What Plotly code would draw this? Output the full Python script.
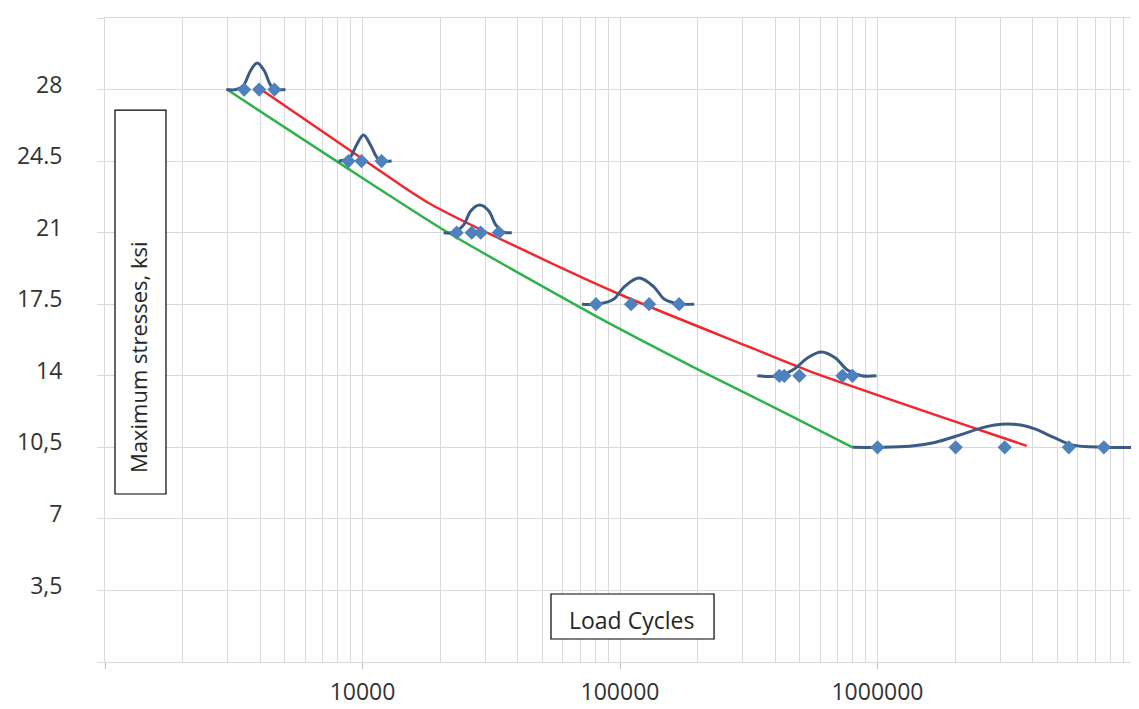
import plotly.graph_objects as go

# ---------------- data ----------------
# test points (blue diamonds)
pt_cycles = [3470, 3970, 4550,
             8820, 9910, 11860,
             23210, 26550, 28780, 33820,
             80650, 110400, 129700, 169600,
             415600, 434600, 497100, 730800, 799200,
             1000000, 2012000, 3120000, 5535000, 7570000]
pt_stress = [28, 28, 28,
             24.5, 24.5, 24.5,
             21, 21, 21, 21,
             17.5, 17.5, 17.5, 17.5,
             14, 14, 14, 14, 14,
             10.5, 10.5, 10.5, 10.5, 10.5]

# distribution curves at each stress level (dark blue)
bell28_cycles = [2960, 3230, 3440, 3670, 3900, 4160, 4420, 4710, 5020]
bell28_stress = [28, 28, 28.18, 28.91, 29.3, 28.91, 28.18, 28, 28]

bell245_cycles = [8070, 8900, 9480, 10090, 10740, 11440, 12180, 12970]
bell245_stress = [24.5, 24.65, 25.29, 25.78, 25.29, 24.65, 24.5, 24.5]

bell21_cycles = [20660, 22800, 24720, 26320, 28530, 30930, 32930, 35370, 37990]
bell21_stress = [21, 21.03, 21.38, 22.06, 22.35, 22.06, 21.38, 21.03, 21]

bell175_cycles = [71150, 82840, 94750, 103600, 118600, 135600, 148300, 169600, 194100]
bell175_stress = [17.5, 17.52, 17.76, 18.34, 18.78, 18.34, 17.76, 17.52, 17.5]

bell14_cycles = [341300, 415600, 475400, 534200, 605500, 686500, 764300, 866400, 991100]
bell14_stress = [14, 14, 14.33, 14.87, 15.16, 14.87, 14.28, 14, 14]

bell105_cycles = [800000, 1000000, 1332000, 1667000, 2084000, 2539000, 2852000, 3205000,
                  3601000, 4082000, 4884000, 5685000, 7573000, 11340000]
bell105_stress = [10.5, 10.5, 10.55, 10.74, 11.1, 11.45, 11.59, 11.64,
                  11.59, 11.4, 10.96, 10.62, 10.5, 10.5]

# mean S-N curve (red)
red_cycles = [4120, 10550, 18060, 46280, 99100, 317600, 543700, 2494000, 3799000]
red_stress = [27.93, 24.41, 22.45, 19.91, 18.0, 15.41, 14.23, 11.35, 10.57]

# design curve (green)
green_cycles = [2980, 7920, 20670, 80660, 203000, 454700, 800000]
green_stress = [28.0, 24.5, 21.13, 16.92, 14.28, 12.08, 10.5]

# axis ticks
y_tickvals = [0, 3.5, 7, 10.5, 14, 17.5, 21, 24.5, 28, 31.5]
y_ticktext = ["", "3,5", "7", "10,5", "14", "17.5", "21", "24.5", "28", ""]
x_tickvals = [1e3, 1e4, 1e5, 1e6, 1e7]
x_ticktext = ["", "10000", "100000", "1000000", ""]
x_minorvals = [m * d for d in (1e3, 1e4, 1e5, 1e6) for m in range(2, 10)]

# ---------------- figure ----------------
BLUE_LINE = "#3B5B87"
BLUE_PT = "#4F81BD"
GRID = "#D9D9D9"
FONT = "Open Sans"
TXT = "#333333"

fig = go.Figure()

fig.add_trace(go.Scatter(x=green_cycles, y=green_stress, mode="lines",
                         line=dict(color="#2DB34A", width=2.5, shape="spline", smoothing=0.6),
                         hoverinfo="skip"))
fig.add_trace(go.Scatter(x=red_cycles, y=red_stress, mode="lines",
                         line=dict(color="#F2262B", width=2.5, shape="spline", smoothing=0.8),
                         hoverinfo="skip"))

for xs, ys in [(bell28_cycles, bell28_stress), (bell245_cycles, bell245_stress),
               (bell21_cycles, bell21_stress), (bell175_cycles, bell175_stress),
               (bell14_cycles, bell14_stress), (bell105_cycles, bell105_stress)]:
    fig.add_trace(go.Scatter(x=xs, y=ys, mode="lines",
                             line=dict(color=BLUE_LINE, width=3, shape="spline", smoothing=1.0),
                             hoverinfo="skip"))

fig.add_trace(go.Scatter(x=pt_cycles, y=pt_stress, mode="markers",
                         marker=dict(symbol="diamond", size=11, color=BLUE_PT)))

fig.update_layout(
    width=1139, height=709,
    margin=dict(l=97, r=12, t=10, b=55, autoexpand=False),
    paper_bgcolor="white", plot_bgcolor="white",
    showlegend=False,
    font=dict(family=FONT, size=23, color=TXT),
)

fig.update_xaxes(
    type="log", range=[3, 7], automargin=False,
    tickmode="array", tickvals=x_tickvals, ticktext=x_ticktext,
    ticks="outside", ticklen=6, tickcolor="#BFBFBF", tickwidth=1,
    showgrid=True, gridcolor=GRID, gridwidth=1,
    minor=dict(tickmode="array", tickvals=x_minorvals, showgrid=True,
               gridcolor=GRID, gridwidth=1, ticks=""),
    showline=True, mirror=True, linecolor=GRID, linewidth=1,
    zeroline=False, ticklabelstandoff=3,
    tickfont=dict(family=FONT, size=23, color=TXT),
)
fig.update_yaxes(
    range=[0, 31.5], automargin=False,
    tickmode="array", tickvals=y_tickvals, ticktext=y_ticktext,
    ticks="outside", ticklen=7, tickcolor=GRID, tickwidth=1,
    showgrid=True, gridcolor=GRID, gridwidth=1,
    showline=True, mirror=True, linecolor=GRID, linewidth=1,
    zeroline=False, ticklabelstandoff=30, ticklabelshift=-5,
    tickfont=dict(family=FONT, size=23, color=TXT),
)

# text boxes
fig.add_shape(type="rect", xref="paper", yref="paper",
              x0=0.0097, x1=0.0592, y0=0.2609, y1=0.8571,
              line=dict(color="black", width=1.2), fillcolor="white", layer="above")
fig.add_annotation(xref="paper", yref="paper", x=0.032, y=0.4736,
                   xanchor="center", yanchor="middle",
                   text="Maximum stresses, ksi", textangle=-90, showarrow=False,
                   font=dict(family=FONT, size=22, color="#262626"))
fig.add_shape(type="rect", xref="paper", yref="paper",
              x0=0.4330, x1=0.5913, y0=0.0357, y1=0.1056,
              line=dict(color="black", width=1.2), fillcolor="white", layer="above")
fig.add_annotation(xref="paper", yref="paper", x=0.5107, y=0.0652,
                   xanchor="center", yanchor="middle",
                   text="Load Cycles", showarrow=False,
                   font=dict(family=FONT, size=23, color="#262626"))

fig.write_html("out.html")
